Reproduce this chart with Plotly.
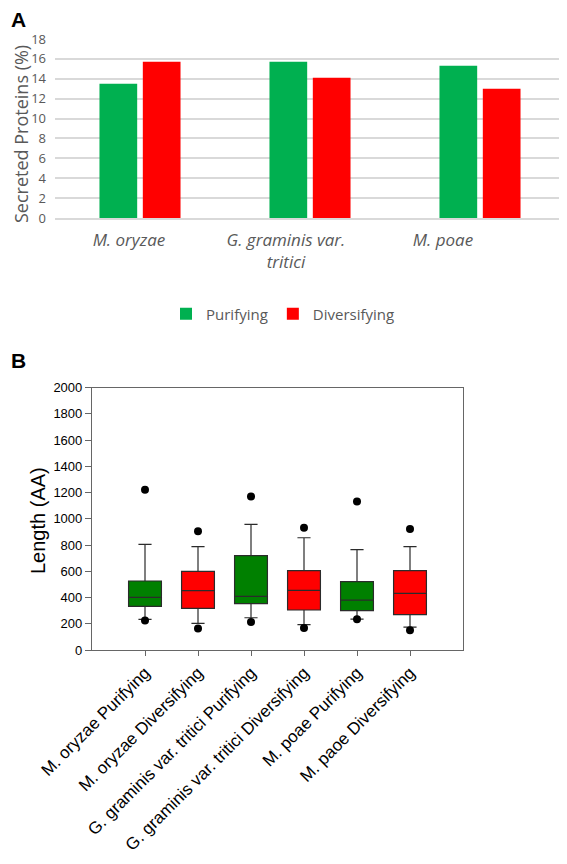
import plotly.graph_objects as go

# the page body adds an 8px margin, so the figure is 8px smaller and all
# reference pixel positions are shifted by that offset
OFF = 8
W, H = 567 - OFF, 864 - OFF


def px_x(x):
    return (x - OFF) / W


def px_y(y):
    return 1 - (y - OFF) / H


# ---------- Panel A data ----------
species = ["M. oryzae", "G. graminis var.<br>tritici", "M. poae"]
purifying_pct = [13.5, 15.7, 15.3]
diversifying_pct = [15.7, 14.1, 13.0]
pct_ticks = [0, 2, 4, 6, 8, 10, 12, 14, 16, 18]

# ---------- Panel B data ----------
box_labels = [
    "M. oryzae Purifying",
    "M. oryzae Diversifying",
    "G. graminis var. tritici Purifying",
    "G. graminis var. tritici Diversifying",
    "M. poae Purifying",
    "M. paoe Diversifying",
]
box_lower = [234, 203, 246, 193, 236, 175]
box_q1 = [333, 318, 353, 305, 300, 269]
box_median = [401, 452, 409, 455, 381, 432]
box_q3 = [526, 600, 719, 605, 521, 605]
box_upper = [805, 788, 958, 856, 765, 788]
outlier_high = [1222, 905, 1171, 933, 1133, 922]
outlier_low = [224, 163, 213, 168, 234, 150]
box_selection = ["Purifying", "Diversifying"] * 3
length_ticks = list(range(0, 2001, 200))

GREEN_A, RED_A = "#00b050", "#ff0000"
GREEN_B, RED_B = "#008000", "#ff0000"

fig = go.Figure()

fig.add_trace(go.Bar(x=species, y=purifying_pct, name="Purifying",
                     marker=dict(color=GREEN_A, line=dict(width=0)),
                     xaxis="x", yaxis="y"))
fig.add_trace(go.Bar(x=species, y=diversifying_pct, name="Diversifying",
                     marker=dict(color=RED_A, line=dict(width=0)),
                     xaxis="x", yaxis="y"))
# invisible carrier trace so the label axis (x3) is drawn
fig.add_trace(go.Scatter(x=[0, 1, 2], y=[None, None, None], mode="markers",
                         showlegend=False, hoverinfo="skip",
                         xaxis="x3", yaxis="y"))

for i, lab in enumerate(box_labels):
    col = GREEN_B if box_selection[i] == "Purifying" else RED_B
    fig.add_trace(go.Box(
        x=[lab], q1=[box_q1[i]], median=[box_median[i]], q3=[box_q3[i]],
        lowerfence=[box_lower[i]], upperfence=[box_upper[i]],
        fillcolor=col, line=dict(color="#2b2b2b", width=1.2),
        width=0.62, whiskerwidth=0.4, showlegend=False,
        xaxis="x2", yaxis="y2", hoverinfo="skip",
    ))

fig.add_trace(go.Scatter(
    x=box_labels + box_labels, y=outlier_high + outlier_low, mode="markers",
    marker=dict(color="black", size=8), showlegend=False,
    xaxis="x2", yaxis="y2", hoverinfo="skip",
))

gray = "#595959"
fontA = "Open Sans"
fontB = "Liberation Sans, Arial"

fig.update_layout(
    width=W, height=H,
    margin=dict(l=0, r=0, t=0, b=0, autoexpand=False),
    paper_bgcolor="white", plot_bgcolor="white",
    barmode="group", bargap=0.49, bargroupgap=0.13,
    boxmode="overlay",
    showlegend=True,
    legend=dict(orientation="h", x=px_x(283), xanchor="center", y=px_y(314),
                yanchor="middle", font=dict(family=fontA, size=15, color=gray),
                itemwidth=30, traceorder="normal"),
    xaxis=dict(domain=[px_x(55), px_x(565)], anchor="y", type="category",
               range=[-0.5, 2.5], showticklabels=False, showline=True,
               linecolor="#d9d9d9", linewidth=1.5, ticks="", automargin=False),
    xaxis3=dict(domain=[px_x(55), px_x(565)], anchor="y", overlaying="x",
                range=[-0.471, 2.777], tickvals=[0, 1, 2], ticktext=species,
                showline=False, showgrid=False, zeroline=False, ticks="",
                tickfont=dict(family=fontA, size=17, color=gray, style="italic"),
                ticklabelstandoff=10, automargin=False),
    yaxis=dict(domain=[px_y(218), px_y(39)], anchor="x", range=[0, 18],
               tickvals=pct_ticks, showgrid=True, gridcolor="#d9d9d9",
               gridwidth=1.5, zeroline=False, showline=False, ticks="",
               tickfont=dict(family=fontA, size=13, color=gray),
               ticklabelstandoff=8, automargin=False),
    xaxis2=dict(domain=[px_x(92), px_x(463)], anchor="y2", type="category",
                range=[-1, 6], showline=True, mirror=True, linecolor="#666666",
                linewidth=1.2, ticks="outside", ticklen=5, tickcolor="#666666",
                tickangle=-45, showgrid=False, zeroline=False, automargin=False,
                tickfont=dict(family=fontB, size=17, color="black")),
    yaxis2=dict(domain=[px_y(650), px_y(387.7)], anchor="x2", range=[0, 2000],
                tickvals=length_ticks, showline=True, mirror=True,
                linecolor="#666666", linewidth=1.2, ticks="outside", ticklen=6,
                tickcolor="#666666", showgrid=False, zeroline=False, automargin=False,
                tickfont=dict(family=fontB, size=13, color="black")),
    annotations=[
        dict(text="<b>A</b>", x=px_x(9), y=px_y(6), xref="paper", yref="paper",
             xanchor="left", yanchor="top", showarrow=False,
             font=dict(family=fontB, size=21, color="black")),
        dict(text="<b>B</b>", x=px_x(9), y=px_y(347), xref="paper", yref="paper",
             xanchor="left", yanchor="top", showarrow=False,
             font=dict(family=fontB, size=21, color="black")),
        # axis titles
        dict(text="Secreted Proteins (%)", x=px_x(21), y=px_y(134),
             xref="paper", yref="paper", xanchor="center", yanchor="middle",
             textangle=-90, showarrow=False,
             font=dict(family=fontA, size=18, color=gray)),
        dict(text="Length (AA)", x=px_x(38), y=px_y(521),
             xref="paper", yref="paper", xanchor="center", yanchor="middle",
             textangle=-90, showarrow=False,
             font=dict(family=fontB, size=20, color="black")),
    ],
)

fig.write_html("out.html")
